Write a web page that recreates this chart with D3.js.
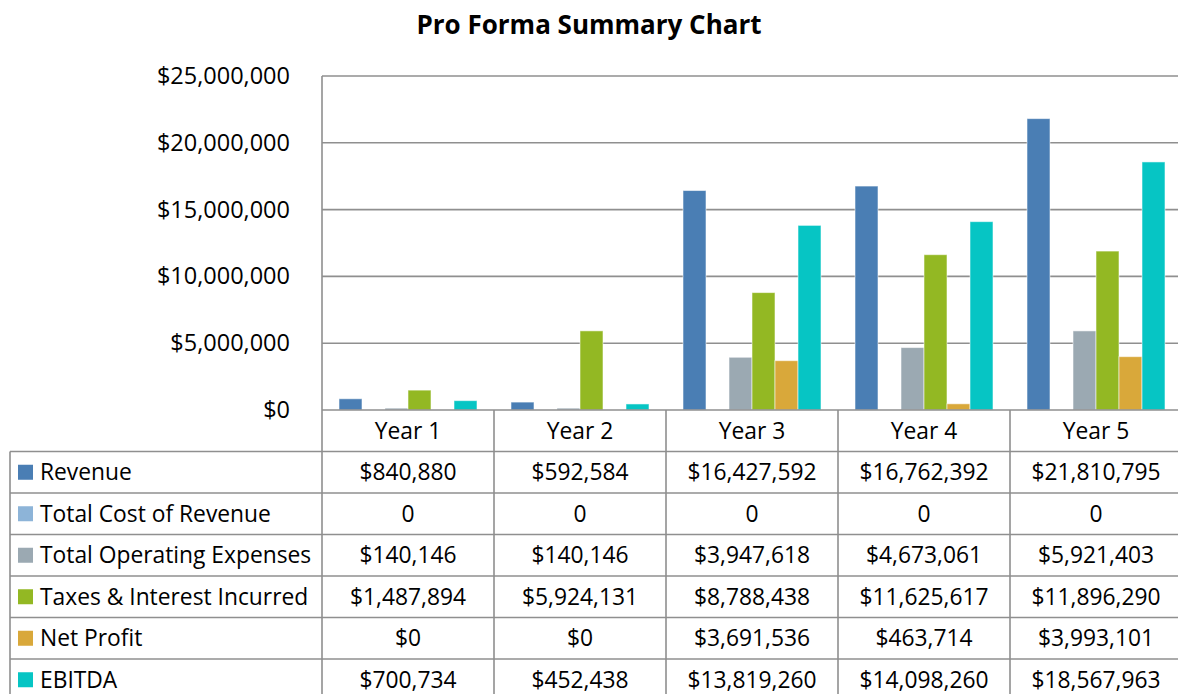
<!DOCTYPE html>
<html>
<head>
<meta charset="utf-8">
<script src="https://cdn.jsdelivr.net/npm/d3@7"></script>
<style>
  html, body { margin: 0; padding: 0; background: #fff; }
  svg { display: block; font-family: "Open Sans", Lato, sans-serif; }
</style>
</head>
<body>
<svg id="chart" width="1178" height="694"></svg>
<script>
// Pro forma figures by year
const years = ["Year 1", "Year 2", "Year 3", "Year 4", "Year 5"];
const seriesNames = ["Revenue", "Total Cost of Revenue", "Total Operating Expenses",
  "Taxes & Interest Incurred", "Net Profit", "EBITDA"];
const revenue = [840880, 592584, 16427592, 16762392, 21810795];
const totalCostOfRevenue = [0, 0, 0, 0, 0];
const operatingExpenses = [140146, 140146, 3947618, 4673061, 5921403];
const taxesInterest = [1487894, 5924131, 8788438, 11625617, 11896290];
const netProfit = [0, 0, 3691536, 463714, 3993101];
const ebitda = [700734, 452438, 13819260, 14098260, 18567963];
const yTicks = [0, 5000000, 10000000, 15000000, 20000000, 25000000];

const seriesColors = ["#4A7EB4", "#8DB4D8", "#9BA9B2", "#93B823", "#D9A83A", "#06C5C4"];
const seriesValues = [revenue, totalCostOfRevenue, operatingExpenses, taxesInterest, netProfit, ebitda];
// The cost-of-revenue row prints as a plain number, all others as currency
const fmtMoney = d3.format("$,.0f");
const cellText = (si, v) => si === 1 ? String(v) : fmtMoney(v);

const svg = d3.select("#chart");
const gridColor = "#8f8f8f";
const bodySize = 22.8;

// Layout
const plotLeft = 322, colW = 172;
const plotTop = 76, plotBottom = 410;
const tableLeft = 10;
const headerBottom = 451.5, rowH = 41.5;

const x = d3.scaleBand().domain(years).range([plotLeft, plotLeft + colW * years.length]).padding(0);
const x1 = d3.scaleBand().domain(seriesNames).range([17, 155]).padding(0);
const y = d3.scaleLinear().domain([0, 25000000]).range([plotBottom, plotTop]);

// Title
svg.append("text")
  .attr("x", 589).attr("y", 34)
  .attr("text-anchor", "middle")
  .attr("font-size", 26).attr("font-weight", 700)
  .attr("fill", "#000")
  .text("Pro Forma Summary Chart");

// Gridlines
svg.append("g").selectAll("line").data(yTicks.slice(1)).join("line")
  .attr("x1", plotLeft).attr("x2", 1178)
  .attr("y1", d => y(d)).attr("y2", d => y(d))
  .attr("stroke", gridColor).attr("stroke-width", 1.6);

// Y axis (labels only, with a plain vertical rule)
const yAxis = d3.axisLeft(y).tickValues(yTicks).tickFormat(fmtMoney).tickSize(0).tickPadding(32);
const gy = svg.append("g").attr("transform", `translate(${plotLeft},0)`).call(yAxis);
gy.select(".domain").remove();
gy.selectAll("text").attr("font-size", 23.5).attr("fill", "#000").attr("font-family", "'Open Sans', sans-serif");
svg.append("line")
  .attr("x1", plotLeft).attr("x2", plotLeft)
  .attr("y1", plotTop).attr("y2", 694)
  .attr("stroke", gridColor).attr("stroke-width", 1.6);

// Bars
const barData = [];
years.forEach((yr, yi) => {
  seriesNames.forEach((s, si) => {
    barData.push({ year: yr, series: s, si, value: seriesValues[si][yi] });
  });
});
svg.append("g").selectAll("rect").data(barData.filter(d => d.value > 0)).join("rect")
  .attr("x", d => x(d.year) + x1(d.series))
  .attr("width", x1.bandwidth())
  .attr("y", d => y(d.value))
  .attr("height", d => y(0) - y(d.value))
  .attr("fill", d => seriesColors[d.si])
  .attr("stroke", "rgba(255,255,255,0.55)")
  .attr("stroke-width", 1);

// Data table
const table = svg.append("g");
// Category axis line / header top
table.append("line")
  .attr("x1", plotLeft).attr("x2", 1178)
  .attr("y1", plotBottom).attr("y2", plotBottom)
  .attr("stroke", gridColor).attr("stroke-width", 1.6);
// Row separators
const rowLines = d3.range(seriesNames.length).map(i => headerBottom + i * rowH);
table.selectAll("line.row").data(rowLines).join("line")
  .attr("class", "row")
  .attr("x1", tableLeft).attr("x2", 1178)
  .attr("y1", d => d).attr("y2", d => d)
  .attr("stroke", gridColor).attr("stroke-width", 1.6);
// Column separators
table.append("line")
  .attr("x1", tableLeft).attr("x2", tableLeft)
  .attr("y1", headerBottom).attr("y2", 694)
  .attr("stroke", gridColor).attr("stroke-width", 1.6);
table.selectAll("line.col").data(years.slice(1)).join("line")
  .attr("class", "col")
  .attr("x1", d => x(d)).attr("x2", d => x(d))
  .attr("y1", plotBottom).attr("y2", 694)
  .attr("stroke", gridColor).attr("stroke-width", 1.6);

// Header labels
table.selectAll("text.hdr").data(years).join("text")
  .attr("class", "hdr")
  .attr("x", d => x(d) + x.bandwidth() / 2)
  .attr("y", (plotBottom + headerBottom) / 2)
  .attr("dy", "0.36em")
  .attr("text-anchor", "middle")
  .attr("font-size", bodySize).attr("fill", "#000")
  .text(d => d);

// Legend keys and row labels
const rows = table.selectAll("g.rowlab").data(seriesNames).join("g")
  .attr("class", "rowlab")
  .attr("transform", (d, i) => `translate(0,${headerBottom + i * rowH + rowH / 2})`);
rows.append("rect")
  .attr("x", 18).attr("y", -7.5).attr("width", 15).attr("height", 15)
  .attr("fill", (d, i) => seriesColors[i]);
rows.append("text")
  .attr("x", 40).attr("dy", "0.36em")
  .attr("font-size", bodySize).attr("fill", "#000")
  .text(d => d);

// Cell values
const cells = [];
seriesNames.forEach((s, si) => {
  years.forEach((yr, yi) => cells.push({ si, yr, v: seriesValues[si][yi] }));
});
table.selectAll("text.cell").data(cells).join("text")
  .attr("class", "cell")
  .attr("x", d => x(d.yr) + x.bandwidth() / 2)
  .attr("y", d => headerBottom + d.si * rowH + rowH / 2)
  .attr("dy", "0.36em")
  .attr("text-anchor", "middle")
  .attr("font-size", bodySize).attr("fill", "#000")
  .text(d => cellText(d.si, d.v));
</script>
</body>
</html>
